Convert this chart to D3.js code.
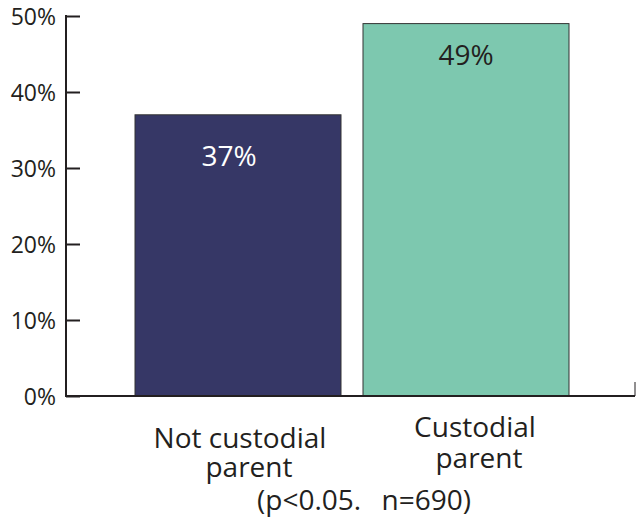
<!DOCTYPE html>
<html>
<head>
<meta charset="utf-8">
<script src="https://cdn.jsdelivr.net/npm/d3@7"></script>
<style>
  html, body { margin: 0; padding: 0; background: #fff; }
  svg text { font-family: "Open Sans", "Noto Sans", sans-serif; }
</style>
</head>
<body>
<svg id="chart" width="636" height="529"></svg>
<script>
// Share of respondents, by custodial status
const categories = ["Not custodial parent", "Custodial parent"];
const categoryLines = [["Not custodial", "parent"], ["Custodial", "parent"]];
const values = [37, 49];
const valueLabels = ["37%", "49%"];
const yTicks = [0, 10, 20, 30, 40, 50];
const footnoteParts = ["(p<0.05.", "n=690)"];

const fills = ["#363766", "#7dc8af"];
const labelColors = ["#ffffff", "#231f20"];

const svg = d3.select("#chart");
const axisX = 66, baseY = 396, topY = 16;

const y = d3.scaleLinear().domain([0, 50]).range([baseY, topY]);
const x = d3.scaleBand().domain(categories).range([135, 135 + 2 * 206 + 22]).paddingInner(22 / 228).paddingOuter(0);

// bars
svg.selectAll("rect.bar").data(values).join("rect")
  .attr("class", "bar")
  .attr("x", (d, i) => x(categories[i]))
  .attr("width", x.bandwidth())
  .attr("y", d => y(d))
  .attr("height", d => baseY - y(d))
  .attr("fill", (d, i) => fills[i])
  .attr("stroke", "#333")
  .attr("stroke-width", 1);

// value labels inside bars
const valueDx = [-9, 0];
const valueDy = [51, 41];
svg.selectAll("text.val").data(values).join("text")
  .attr("class", "val")
  .attr("x", (d, i) => x(categories[i]) + x.bandwidth() / 2 + valueDx[i])
  .attr("y", (d, i) => y(d) + valueDy[i])
  .attr("text-anchor", "middle")
  .attr("font-size", 28)
  .attr("fill", (d, i) => labelColors[i])
  .text((d, i) => valueLabels[i]);

// y axis with inward ticks
const yAxis = d3.axisRight(y).tickValues(yTicks).tickSize(14).tickFormat(d => d + "%");
const gy = svg.append("g").attr("transform", `translate(${axisX},0)`).call(yAxis);
gy.select(".domain").remove();
gy.selectAll(".tick line").attr("stroke", "#231f20").attr("stroke-width", 2);
gy.selectAll(".tick text")
  .attr("x", -10).attr("text-anchor", "end")
  .attr("font-size", 23).attr("fill", "#231f20")
  .attr("dy", "0.35em");
svg.append("line")
  .attr("x1", axisX).attr("x2", axisX)
  .attr("y1", y(50) - 1).attr("y2", baseY + 1)
  .attr("stroke", "#231f20").attr("stroke-width", 2);

// x axis baseline
svg.append("line")
  .attr("x1", axisX - 1).attr("x2", 635)
  .attr("y1", baseY).attr("y2", baseY)
  .attr("stroke", "#231f20").attr("stroke-width", 2);
svg.append("line")
  .attr("x1", 635).attr("x2", 635)
  .attr("y1", baseY).attr("y2", baseY - 14)
  .attr("stroke", "#231f20").attr("stroke-width", 1);

// category labels, two lines each
const lineY = [[448, 477], [437, 468]];
const lineDx = [[2, 11], [9, 13]];
categoryLines.forEach((lines, i) => {
  const cx = x(categories[i]) + x.bandwidth() / 2;
  lines.forEach((t, j) => {
    svg.append("text")
      .attr("x", cx + lineDx[i][j]).attr("y", lineY[i][j])
      .attr("text-anchor", "middle")
      .attr("font-size", 28).attr("fill", "#231f20")
      .text(t);
  });
});

// footnote
const foot = svg.append("text")
  .attr("x", 364).attr("y", 510)
  .attr("text-anchor", "middle")
  .attr("font-size", 28).attr("fill", "#231f20");
foot.append("tspan").text(footnoteParts[0] + " ");
foot.append("tspan").attr("dx", 13).text(footnoteParts[1]);
</script>
</body>
</html>
